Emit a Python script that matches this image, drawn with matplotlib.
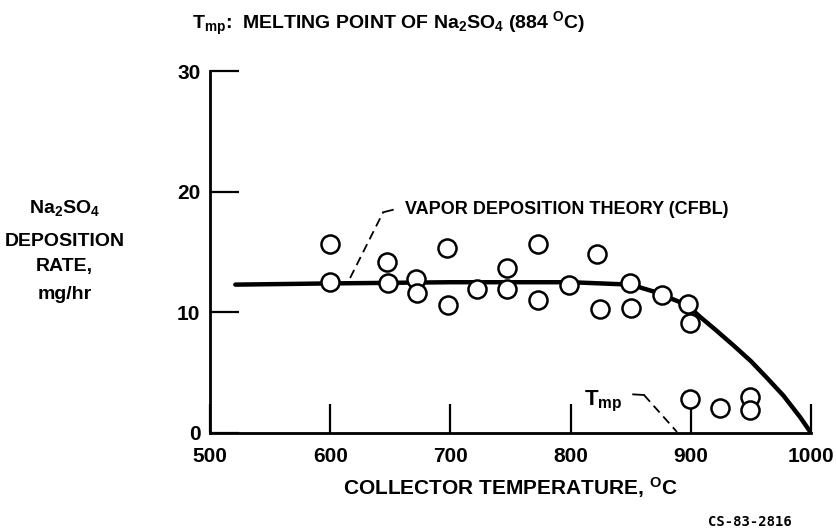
import matplotlib
matplotlib.use('Agg')
import matplotlib.pyplot as plt
import numpy as np

# measured deposition rates
temp_pts = [600, 600, 647, 648, 671, 672, 697, 698, 722, 747, 747, 773, 773,
            799, 822, 824, 849, 850, 876, 898, 899, 899, 924, 949, 949]
rate_pts = [15.7, 12.5, 14.2, 12.4, 12.8, 11.6, 15.3, 10.6, 11.9, 13.7, 11.9, 15.7, 11.0,
            12.3, 14.8, 10.3, 12.4, 10.4, 11.4, 10.7, 9.1, 2.8, 2.05, 3.0, 1.9]

# vapor deposition theory (CFBL) curve
temp_theory = [521, 600, 700, 800, 850, 870, 897, 908, 920, 935, 950, 963, 977, 991, 1000]
rate_theory = [12.3, 12.4, 12.5, 12.5, 12.3, 11.7, 10.6, 9.6, 8.6, 7.3, 5.95, 4.6, 3.1, 1.3, 0.0]

xticks = [500, 600, 700, 800, 900, 1000]
yticks = [0, 10, 20, 30]

plt.rcParams['font.family'] = ['Liberation Sans', 'DejaVu Sans']
plt.rcParams['font.weight'] = 'bold'
plt.rcParams['axes.labelweight'] = 'bold'
plt.rcParams['mathtext.default'] = 'regular'

fig = plt.figure(figsize=(8.37, 5.31), dpi=100)
ax = fig.add_axes([0.251, 0.1846, 0.718, 0.6814])

ax.plot(temp_theory, rate_theory, color='black', lw=3.2, solid_capstyle='round',
        solid_joinstyle='round', zorder=2)
ax.plot(temp_pts, rate_pts, 'o', ms=13, mfc='white', mec='black', mew=1.8,
        clip_on=False, zorder=3)

ax.set_xlim(500, 1000)
ax.set_ylim(0, 30)
ax.set_xticks(xticks)
ax.set_yticks(yticks)
for s in ['top', 'right']:
    ax.spines[s].set_visible(False)
for s in ['left', 'bottom']:
    ax.spines[s].set_linewidth(2)
ax.tick_params(axis='both', direction='in', length=21, width=1.6, labelsize=15)
ax.tick_params(axis='x', pad=10)
ax.tick_params(axis='y', pad=7)

ax.set_xlabel('COLLECTOR TEMPERATURE, $^{O}$C', fontsize=15, labelpad=7)

# y label as stacked lines
fig.text(0.077, 0.608, 'Na$_2$SO$_4$', fontsize=14, ha='center', va='center')
fig.text(0.077, 0.546, 'DEPOSITION', fontsize=14, ha='center', va='center')
fig.text(0.077, 0.499, 'RATE,', fontsize=14, ha='center', va='center')
fig.text(0.077, 0.445, 'mg/hr', fontsize=14, ha='center', va='center')

fig.text(0.229, 0.955, 'T$_{mp}$:  MELTING POINT OF Na$_2$SO$_4$ (884 $^{O}$C)',
         fontsize=14, ha='left', va='center')

# annotations
ax.text(662, 18.5, 'VAPOR DEPOSITION THEORY (CFBL)', fontsize=13, ha='left', va='center')
ax.plot([616.5, 644], [12.85, 18.3], color='black', lw=1.3, ls=(0, (5, 3)))
ax.plot([644, 652], [18.3, 18.5], color='black', lw=1.3)

ax.text(811, 2.3, 'T$_{mp}$', fontsize=16, ha='left', va='baseline')
ax.plot([852, 861], [3.2, 3.15], color='black', lw=1.3)
ax.plot([861, 888.5], [3.15, 0.08], color='black', lw=1.3, ls=(0, (5, 3)))

fig.text(0.896, 0.017, 'CS-83-2816', fontsize=10, family='DejaVu Sans Mono',
         fontweight='bold', ha='center', va='center')

fig.savefig('out.png', dpi=100)
